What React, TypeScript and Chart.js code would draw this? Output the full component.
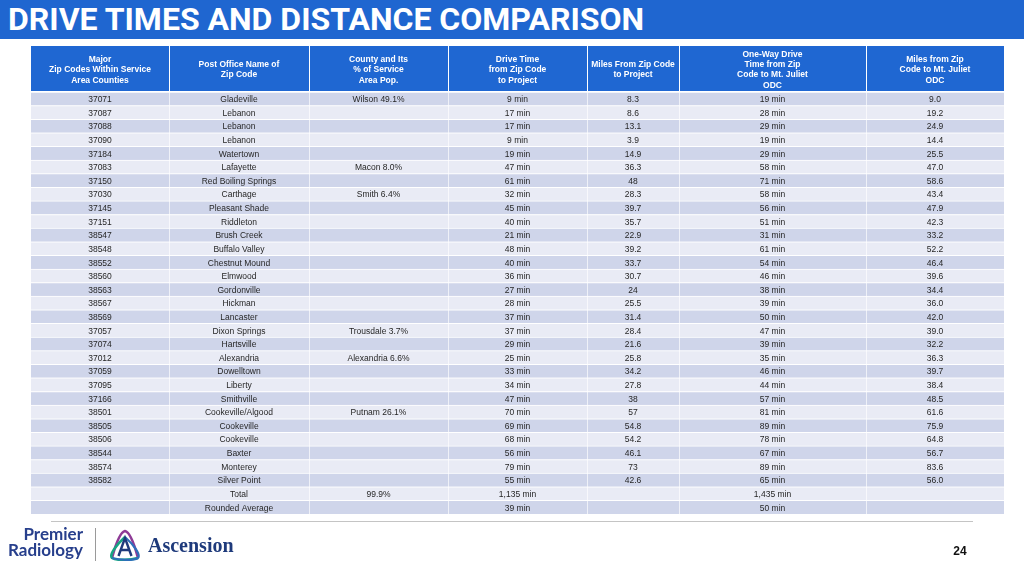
import React, { useEffect, useRef } from "react";
import { Chart, registerables } from "chart.js";

Chart.register(...registerables);

// ---------- data ----------
const zipCodes = ["37071","37087","37088","37090","37184","37083","37150","37030","37145","37151","38547","38548","38552","38560","38563","38567","38569","37057","37074","37012","37059","37095","37166","38501","38505","38506","38544","38574","38582"];
const postOffices = ["Gladeville","Lebanon","Lebanon","Lebanon","Watertown","Lafayette","Red Boiling Springs","Carthage","Pleasant Shade","Riddleton","Brush Creek","Buffalo Valley","Chestnut Mound","Elmwood","Gordonville","Hickman","Lancaster","Dixon Springs","Hartsville","Alexandria","Dowelltown","Liberty","Smithville","Cookeville/Algood","Cookeville","Cookeville","Baxter","Monterey","Silver Point"];
const counties = ["Wilson 49.1%","","","","","Macon 8.0%","","Smith 6.4%","","","","","","","","","","Trousdale 3.7%","","Alexandria 6.6%","","","","Putnam 26.1%","","","","",""];
const driveTimes = [9,17,17,9,19,47,61,32,45,40,21,48,40,36,27,28,37,37,29,25,33,34,47,70,69,68,56,79,55];
const milesToProject = [8.3,8.6,13.1,3.9,14.9,36.3,48,28.3,39.7,35.7,22.9,39.2,33.7,30.7,24,25.5,31.4,28.4,21.6,25.8,34.2,27.8,38,57,54.8,54.2,46.1,73,42.6];
const odcDriveTimes = [19,28,29,19,29,58,71,58,56,51,31,61,54,46,38,39,50,47,39,35,46,44,57,81,89,78,67,89,65];
const odcMiles = [9.0,19.2,24.9,14.4,25.5,47.0,58.6,43.4,47.9,42.3,33.2,52.2,46.4,39.6,34.4,36.0,42.0,39.0,32.2,36.3,39.7,38.4,48.5,61.6,75.9,64.8,56.7,83.6,56.0];

const summaryLabels = ["Total", "Rounded Average"];
const summaryCounty = ["99.9%", ""];
const summaryDrive = [1135, 39];
const summaryOdcDrive = [1435, 50];

const headerLines = [
  ["Major", "Zip Codes Within Service", "Area Counties"],
  ["Post Office Name of", "Zip Code"],
  ["County and Its", "% of Service", "Area Pop."],
  ["Drive Time", "from Zip Code", "to Project"],
  ["Miles From Zip Code", "to Project"],
  ["One-Way Drive", "Time from Zip", "Code to Mt. Juliet", "ODC"],
  ["Miles from Zip", "Code to Mt. Juliet", "ODC"],
];

// ---------- layout / style ----------
const colWidths = [138, 140, 139, 139, 92, 187, 138];
const HEADER_BG = "#1F67D2";
const TITLE_BG = "#1F66D0";
const ROW_DARK = "#CFD5EA";
const ROW_LIGHT = "#E9EBF5";
const TEXT_COLOR = "#262626";
const NAVY = "#273F8C";

const fmtMin = (v: number) => v.toLocaleString("en-US") + " min";

const rowLabels = [...zipCodes, ...summaryLabels];
const cellText: string[][] = [
  [...zipCodes, "", ""],
  [...postOffices, ...summaryLabels],
  [...counties, ...summaryCounty],
  [...driveTimes.map(fmtMin), ...summaryDrive.map(fmtMin)],
  [...milesToProject.map((v) => String(v)), "", ""],
  [...odcDriveTimes.map(fmtMin), ...summaryOdcDrive.map(fmtMin)],
  [...odcMiles.map((v) => v.toFixed(1)), "", ""],
];

const HEADER_H = 46;
const LINE_H = 10.3;

const tablePlugin = {
  id: "tableText",
  afterDatasetsDraw(chart: any) {
    const ctx = chart.ctx as CanvasRenderingContext2D;
    const xs = chart.scales.x;
    const area = chart.chartArea;
    ctx.save();
    ctx.textAlign = "center";
    ctx.textBaseline = "middle";
    // header
    let acc = 0;
    colWidths.forEach((w, i) => {
      const l = xs.getPixelForValue(acc);
      const r = xs.getPixelForValue(acc + w);
      acc += w;
      ctx.fillStyle = HEADER_BG;
      ctx.fillRect(l + (i === 0 ? 0 : 1), area.top - HEADER_H, r - l - (i === 0 ? 0 : 1), HEADER_H - 1);
      const lines = headerLines[i];
      ctx.fillStyle = "#FFFFFF";
      ctx.font = 'bold 8.5px "Liberation Sans", Arial, sans-serif';
      const cy = area.top - HEADER_H / 2 + 1;
      lines.forEach((ln, k) => {
        ctx.fillText(ln, (l + r) / 2, cy + (k - (lines.length - 1) / 2) * LINE_H);
      });
    });
    // body
    ctx.fillStyle = TEXT_COLOR;
    ctx.font = '8.5px "Liberation Sans", Arial, sans-serif';
    chart.data.datasets.forEach((_ds: any, i: number) => {
      const meta = chart.getDatasetMeta(i);
      meta.data.forEach((el: any, j: number) => {
        const txt = cellText[i][j];
        if (!txt) return;
        const p = el.getProps(["x", "y", "base"], true);
        ctx.fillText(txt, (p.x + p.base) / 2, p.y + 1);
      });
    });
    ctx.restore();
  },
};

function TableChart() {
  const ref = useRef<HTMLCanvasElement | null>(null);
  useEffect(() => {
    if (!ref.current) return;
    const total = colWidths.reduce((a, b) => a + b, 0);
    const chart = new Chart(ref.current, {
      type: "bar",
      data: {
        labels: rowLabels,
        datasets: colWidths.map((w, i) => ({
          label: headerLines[i].join(" "),
          data: rowLabels.map(() => w),
          backgroundColor: (c: any) => (c.dataIndex % 2 === 0 ? ROW_DARK : ROW_LIGHT),
          borderColor: "#FFFFFF",
          borderWidth: { top: 1, left: i === 0 ? 0 : 1, right: 0, bottom: 0 },
          borderSkipped: false,
          barPercentage: 1,
          categoryPercentage: 1,
        })),
      },
      options: {
        indexAxis: "y",
        animation: false,
        responsive: false,
        events: [],
        layout: { padding: { top: 92, left: 31, right: 20, bottom: 62 } },
        plugins: { legend: { display: false }, tooltip: { enabled: false }, title: { display: false } },
        scales: {
          x: { type: "linear", stacked: true, display: false, min: 0, max: total },
          y: { type: "category", stacked: true, display: false },
        },
      } as any,
      plugins: [tablePlugin],
    });
    return () => chart.destroy();
  }, []);
  return <canvas ref={ref} width={1024} height={576} style={{ position: "absolute", left: 0, top: 0, width: 1024, height: 576 }} />;
}

function AscensionIcon() {
  return (
    <svg width={36} height={32} viewBox="0 0 36 32" style={{ position: "absolute", left: 107, top: 529 }}>
      <path d="M5 29 C9 14 13 3 18 2 C23 3 27 14 31 29" fill="none" stroke="#8E3B96" strokeWidth={2.6} />
      <path d="M18 8 C9 16 2 26 5 29 C10 32 24 31 31 29" fill="none" stroke="#17A483" strokeWidth={2.6} />
      <path d="M18 8 C27 16 34 26 31 29 C26 32 12 31 5 29" fill="none" stroke="#2D6FBA" strokeWidth={2.2} />
      <path d="M11.5 27 L18 9 L24.5 27 M14 21 H22" fill="none" stroke="#1E3A7B" strokeWidth={2.4} />
    </svg>
  );
}

export default function App() {
  return (
    <div style={{ position: "fixed", left: 0, top: 0, width: 1024, height: 576, background: "#FFFFFF", overflow: "hidden" }}>
      <div style={{ position: "absolute", left: 0, top: 0, width: 1024, height: 39, background: TITLE_BG }} />
      <div
        style={{
          position: "absolute",
          left: 8,
          top: 1,
          color: "#FFFFFF",
          fontFamily: "Roboto, sans-serif",
          fontWeight: 700,
          fontSize: 32,
          lineHeight: "36px",
          whiteSpace: "nowrap",
        }}
      >
        DRIVE TIMES AND DISTANCE COMPARISON
      </div>
      <TableChart />
      <div style={{ position: "absolute", left: 51, top: 521, width: 922, height: 1, background: "#C4C4C4" }} />
      <div
        style={{
          position: "absolute",
          left: 0,
          width: 83,
          top: 526,
          textAlign: "right",
          color: NAVY,
          fontFamily: "Lato, sans-serif",
          fontWeight: 700,
          fontSize: 17,
          lineHeight: "16px",
        }}
      >
        Premier
        <br />
        Radiology
      </div>
      <div style={{ position: "absolute", left: 95, top: 528, width: 1, height: 33, background: "#9A9A9A" }} />
      <AscensionIcon />
      <div
        style={{
          position: "absolute",
          left: 148,
          top: 533,
          color: "#1E3A7B",
          fontFamily: '"Liberation Serif", serif',
          fontWeight: 700,
          fontSize: 20,
          lineHeight: "24px",
        }}
      >
        Ascension
      </div>
      <div
        style={{
          position: "absolute",
          left: 940,
          width: 40,
          top: 544,
          textAlign: "center",
          color: "#111111",
          fontFamily: '"Liberation Sans", Arial, sans-serif',
          fontWeight: 700,
          fontSize: 12,
          lineHeight: "14px",
        }}
      >
        24
      </div>
    </div>
  );
}
